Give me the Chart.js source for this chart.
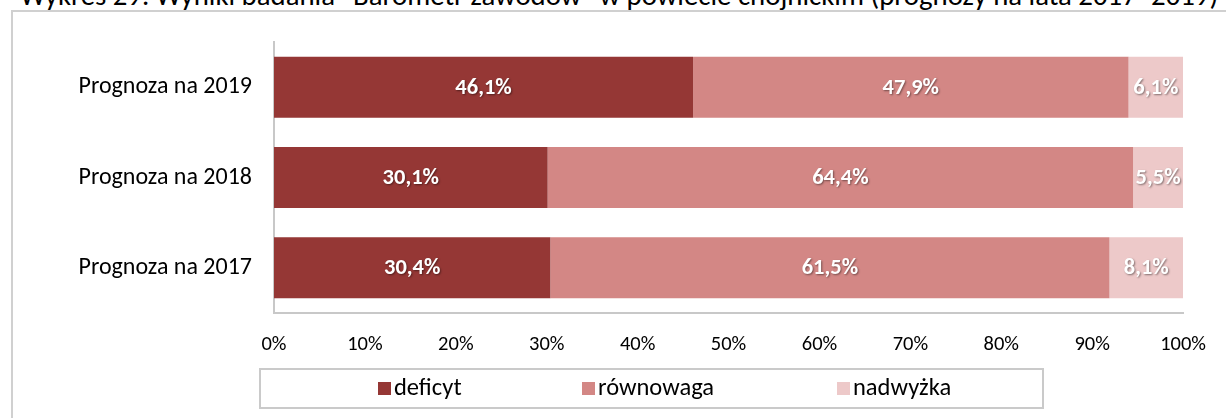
<!DOCTYPE html>
<html>
<head>
<meta charset="utf-8">
<script src="https://cdn.jsdelivr.net/npm/chart.js@4"></script>
<style>
    html, body { margin: 0; padding: 0; background: #fff; overflow: hidden; }
    body { width: 1226px; height: 418px; position: relative; font-family: Carlito, Lato, sans-serif; }
    .chart-title {
        position: absolute; left: 20px; top: -19px; white-space: nowrap;
        font-size: 28.8px; line-height: 29px; color: #000;
    }
    .chart-frame {
        position: absolute; left: 11px; top: 10px; width: 1300px; height: 500px;
        border: 2px solid #d0d0d0; box-sizing: border-box;
    }
    #barometr { position: absolute; left: 0; top: 0; }
</style>
</head>
<body>
<div class="chart-title">Wykres 29. Wyniki badania "Barometr zawodów" w powiecie chojnickim (prognozy na lata 2017–2019)</div>
<div class="chart-frame"></div>
<canvas id="barometr" width="1226" height="418"></canvas>
<script>
// Dane z wykresu (prognozy 2017-2019)
const categories = ['Prognoza na 2019', 'Prognoza na 2018', 'Prognoza na 2017'];
const deficyt = [46.1, 30.1, 30.4];
const rownowaga = [47.9, 64.4, 61.5];
const nadwyzka = [6.1, 5.5, 8.1];
const seriesNames = ['deficyt', 'równowaga', 'nadwyżka'];
const xTicks = [0, 10, 20, 30, 40, 50, 60, 70, 80, 90, 100];

const colors = ['#953735', '#D38785', '#EDC9C9'];
const fontFamily = 'Carlito, Lato, sans-serif';

// etykiety danych wewnątrz słupków
const barLabels = {
    id: 'barLabels',
    afterDatasetsDraw(chart) {
        const ctx = chart.ctx;
        ctx.save();
        ctx.font = 'bold 22.5px ' + fontFamily;
        ctx.fillStyle = '#fff';
        ctx.textAlign = 'center';
        ctx.textBaseline = 'middle';
        ctx.shadowColor = 'rgba(0,0,0,0.45)';
        ctx.shadowOffsetX = 1;
        ctx.shadowOffsetY = 1;
        ctx.shadowBlur = 2;
        chart.data.datasets.forEach((ds, i) => {
            const meta = chart.getDatasetMeta(i);
            meta.data.forEach((bar, j) => {
                const right = Math.min(bar.x, chart.chartArea.right);
                const cx = (right + bar.base) / 2;
                ctx.fillText(ds.data[j].toFixed(1).replace('.', ',') + '%', cx, bar.y + 1);
            });
        });
        ctx.restore();
    }
};

// legenda w ramce pod osią
const boxedLegend = {
    id: 'boxedLegend',
    afterDraw(chart) {
        const ctx = chart.ctx;
        ctx.save();
        ctx.strokeStyle = '#cacaca';
        ctx.lineWidth = 2;
        ctx.strokeRect(260, 369, 783, 39);
        const itemX = [378, 582, 837];
        ctx.font = '24.5px ' + fontFamily;
        ctx.textBaseline = 'middle';
        ctx.textAlign = 'left';
        seriesNames.forEach((name, i) => {
            ctx.fillStyle = colors[i];
            ctx.fillRect(itemX[i], 382, 13, 13);
            ctx.fillStyle = '#000';
            ctx.fillText(name, itemX[i] + 16, 389);
        });
        ctx.restore();
    }
};

new Chart(document.getElementById('barometr'), {
    type: 'bar',
    data: {
        labels: categories,
        datasets: [
            { label: seriesNames[0], data: deficyt, backgroundColor: colors[0] },
            { label: seriesNames[1], data: rownowaga, backgroundColor: colors[1] },
            { label: seriesNames[2], data: nadwyzka, backgroundColor: colors[2] }
        ]
    },
    options: {
        indexAxis: 'y',
        responsive: false,
        animation: false,
        layout: { padding: { top: 42, right: 41, bottom: 55, left: 0 } },
        datasets: { bar: { barPercentage: 0.675, categoryPercentage: 1 } },
        scales: {
            x: {
                stacked: true,
                min: 0,
                max: 100,
                afterBuildTicks: (scale) => { scale.ticks = xTicks.map(v => ({ value: v })); },
                afterFit: (scale) => { scale.height = 50; },
                grid: { display: false, drawTicks: false },
                border: { display: true, color: '#c8c8c8', width: 2 },
                ticks: {
                    color: '#000',
                    padding: 20,
                    font: { family: fontFamily, size: 20.5 },
                    callback: (v) => v + '%',
                    maxRotation: 0
                }
            },
            y: {
                stacked: true,
                afterFit: (scale) => { scale.width = 274; },
                grid: { display: false, drawTicks: false },
                border: { display: true, color: '#c8c8c8', width: 2 },
                ticks: {
                    color: '#000',
                    padding: 22,
                    font: { family: fontFamily, size: 24 }
                }
            }
        },
        plugins: {
            legend: { display: false },
            tooltip: { enabled: false }
        }
    },
    plugins: [barLabels, boxedLegend]
});
</script>
</body>
</html>
